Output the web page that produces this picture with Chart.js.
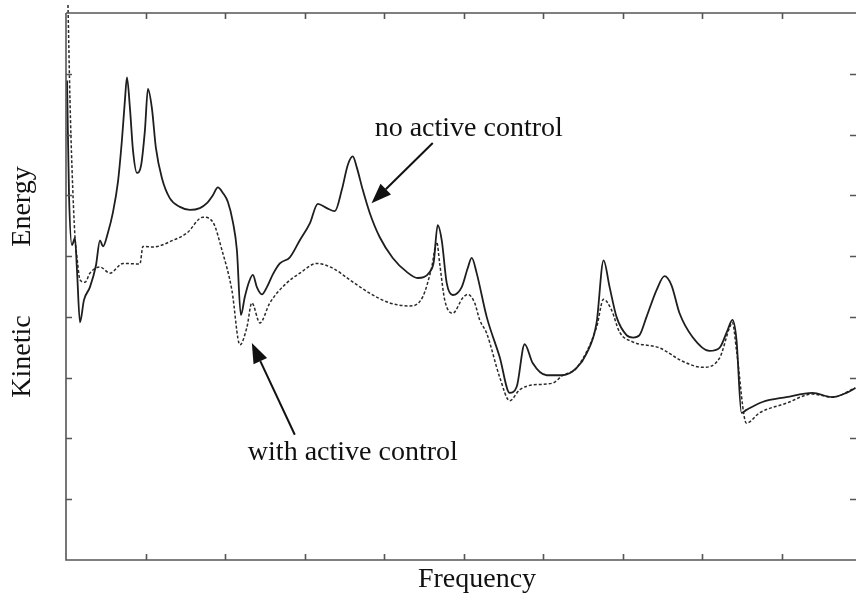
<!DOCTYPE html>
<html>
<head>
<meta charset="utf-8">
<script src="https://cdn.jsdelivr.net/npm/chart.js@4.4.1/dist/chart.umd.min.js"></script>
<style>
  body { margin: 0; background: #fff; }
  canvas { display: block; }
</style>
</head>
<body>
<canvas id="myChart" width="856" height="594"></canvas>
<script>
// frequency (arbitrary units) and kinetic energy readings, taken off the plot
const noControlX = [0.013, 0.038, 0.075, 0.113, 0.138, 0.176, 0.226, 0.301, 0.377, 0.427, 0.465, 0.528, 0.590, 0.653, 0.703, 0.741, 0.766, 0.804, 0.842, 0.892, 0.942, 0.992, 1.030, 1.080, 1.130, 1.206, 1.306, 1.432, 1.557, 1.683, 1.771, 1.846, 1.909, 1.972, 2.035, 2.098, 2.148, 2.198, 2.248, 2.299, 2.349, 2.399, 2.462, 2.525, 2.600, 2.688, 2.814, 2.939, 3.065, 3.165, 3.278, 3.379, 3.467, 3.542, 3.605, 3.655, 3.730, 3.818, 3.944, 4.107, 4.283, 4.421, 4.572, 4.622, 4.672, 4.723, 4.785, 4.861, 4.974, 5.049, 5.100, 5.162, 5.288, 5.451, 5.577, 5.665, 5.765, 5.866, 6.042, 6.243, 6.418, 6.544, 6.669, 6.757, 6.833, 6.920, 7.046, 7.130, 7.209, 7.297, 7.423, 7.523, 7.611, 7.712, 7.875, 8.089, 8.214, 8.315, 8.377, 8.428, 8.490, 8.553, 8.754, 9.056, 9.382, 9.634, 9.810, 9.922];
const noControlY = [7.89, 6.00, 5.18, 5.30, 4.77, 3.91, 4.28, 4.49, 4.85, 5.26, 5.16, 5.39, 5.72, 6.22, 6.91, 7.57, 7.94, 7.43, 6.74, 6.37, 6.48, 7.07, 7.75, 7.43, 6.78, 6.28, 5.95, 5.81, 5.76, 5.79, 5.87, 6.00, 6.13, 6.04, 5.89, 5.56, 5.10, 4.03, 4.33, 4.57, 4.69, 4.49, 4.37, 4.49, 4.70, 4.88, 4.98, 5.26, 5.54, 5.86, 5.79, 5.74, 6.09, 6.50, 6.64, 6.46, 6.09, 5.71, 5.31, 4.97, 4.74, 4.64, 4.74, 4.90, 5.51, 5.26, 4.56, 4.36, 4.49, 4.80, 4.97, 4.72, 4.00, 3.34, 2.75, 2.85, 3.55, 3.24, 3.04, 3.04, 3.16, 3.40, 3.90, 4.93, 4.49, 4.00, 3.70, 3.66, 3.70, 4.00, 4.44, 4.67, 4.52, 4.06, 3.67, 3.44, 3.49, 3.78, 3.95, 3.62, 2.42, 2.47, 2.60, 2.68, 2.75, 2.68, 2.75, 2.83];

const withControlX = [0.025, 0.050, 0.075, 0.113, 0.138, 0.176, 0.239, 0.301, 0.427, 0.553, 0.716, 0.929, 0.967, 1.093, 1.344, 1.520, 1.721, 1.846, 1.960, 2.085, 2.186, 2.274, 2.336, 2.437, 2.562, 2.776, 2.939, 3.153, 3.354, 3.567, 3.818, 4.069, 4.321, 4.484, 4.597, 4.660, 4.697, 4.760, 4.861, 4.986, 5.049, 5.137, 5.200, 5.288, 5.451, 5.577, 5.702, 5.866, 6.117, 6.243, 6.418, 6.669, 6.757, 6.858, 6.958, 7.121, 7.461, 7.750, 8.001, 8.214, 8.340, 8.377, 8.428, 8.553, 8.716, 9.056, 9.382, 9.634, 9.922];
const withControlY = [9.13, 7.57, 6.46, 5.31, 4.98, 4.61, 4.57, 4.72, 4.82, 4.72, 4.88, 4.87, 5.16, 5.15, 5.26, 5.38, 5.64, 5.56, 5.10, 4.44, 3.54, 3.83, 4.23, 3.90, 4.23, 4.56, 4.72, 4.88, 4.80, 4.61, 4.39, 4.23, 4.18, 4.33, 4.82, 5.23, 4.88, 4.28, 4.06, 4.31, 4.37, 4.23, 3.95, 3.73, 3.01, 2.62, 2.80, 2.88, 2.91, 3.04, 3.16, 3.83, 4.29, 4.11, 3.75, 3.59, 3.49, 3.27, 3.17, 3.32, 3.82, 3.91, 3.45, 2.25, 2.42, 2.58, 2.73, 2.68, 2.83];

const xTicks = [1, 2, 3, 4, 5, 6, 7, 8, 9];
const yTicks = [1, 2, 3, 4, 5, 6, 7, 8];

const serif = '"Liberation Serif", "DejaVu Serif", serif';

function toPoints(xs, ys) {
  return xs.map((x, i) => ({ x: x, y: ys[i] }));
}

// frame with inward ticks, axis titles and the two arrows
const framePlugin = {
  id: "frame",
  afterDraw(chart) {
    const ctx = chart.ctx;
    const a = chart.chartArea;
    const sx = chart.scales.x;
    const sy = chart.scales.y;
    const tick = 6;

    ctx.save();
    ctx.strokeStyle = "#555";
    ctx.lineWidth = 1.6;
    ctx.beginPath();
    ctx.moveTo(a.left, a.top);
    ctx.lineTo(a.right + 2, a.top);
    ctx.moveTo(a.left, a.top);
    ctx.lineTo(a.left, a.bottom);
    ctx.lineTo(a.right + 2, a.bottom);
    xTicks.forEach((v) => {
      const px = Math.round(sx.getPixelForValue(v)) + 0.5;
      ctx.moveTo(px, a.bottom);
      ctx.lineTo(px, a.bottom - tick);
      ctx.moveTo(px, a.top);
      ctx.lineTo(px, a.top + tick);
    });
    yTicks.forEach((v) => {
      const py = Math.round(sy.getPixelForValue(v)) + 0.5;
      ctx.moveTo(a.left, py);
      ctx.lineTo(a.left + tick, py);
      ctx.moveTo(a.right, py);
      ctx.lineTo(a.right - tick, py);
    });
    ctx.stroke();

    // axis titles
    ctx.fillStyle = "#111";
    ctx.font = "28px " + serif;
    ctx.textAlign = "center";
    ctx.textBaseline = "alphabetic";
    ctx.fillText("Frequency", a.left + 411, a.bottom + 27);

    ctx.save();
    ctx.translate(30, a.top + a.height / 2);
    ctx.rotate(-Math.PI / 2);
    ctx.fillText("Kinetic", -70, 0);
    ctx.fillText("Energy", 80, 0);
    ctx.restore();

    // annotations
    ctx.textAlign = "left";
    ctx.fillText("no active control", sx.getPixelForValue(3.88), sy.getPixelForValue(6.97));
    ctx.fillText("with active control", sx.getPixelForValue(2.286), sy.getPixelForValue(1.64));

    drawArrow(ctx, sx.getPixelForValue(4.61), sy.getPixelForValue(6.86),
      sx.getPixelForValue(3.84), sy.getPixelForValue(5.87));
    drawArrow(ctx, sx.getPixelForValue(2.876), sy.getPixelForValue(2.06),
      sx.getPixelForValue(2.336), sy.getPixelForValue(3.57));
    ctx.restore();
  },
};

function drawArrow(ctx, x0, y0, x1, y1) {
  const ang = Math.atan2(y1 - y0, x1 - x0);
  const len = 20;
  const half = 7.5;
  const bx = x1 - len * Math.cos(ang);
  const by = y1 - len * Math.sin(ang);
  ctx.strokeStyle = "#111";
  ctx.fillStyle = "#111";
  ctx.lineWidth = 2;
  ctx.beginPath();
  ctx.moveTo(x0, y0);
  ctx.lineTo(bx, by);
  ctx.stroke();
  ctx.beginPath();
  ctx.moveTo(x1, y1);
  ctx.lineTo(bx + half * Math.sin(ang), by - half * Math.cos(ang));
  ctx.lineTo(bx - half * Math.sin(ang), by + half * Math.cos(ang));
  ctx.closePath();
  ctx.fill();
}

new Chart(document.getElementById("myChart"), {
  type: "line",
  data: {
    datasets: [
      {
        label: "no active control",
        data: toPoints(noControlX, noControlY),
        borderColor: "#1e1e1e",
        borderWidth: 1.8,
        pointRadius: 0,
        cubicInterpolationMode: "monotone",
        clip: false,
      },
      {
        label: "with active control",
        data: toPoints(withControlX, withControlY),
        borderColor: "#2a2a2a",
        borderWidth: 1.5,
        borderDash: [3, 2],
        pointRadius: 0,
        cubicInterpolationMode: "monotone",
        clip: false,
      },
    ],
  },
  options: {
    responsive: false,
    animation: false,
    layout: { padding: { left: 66, right: 0, top: 13, bottom: 34 } },
    plugins: {
      legend: { display: false },
      tooltip: { enabled: false },
    },
    scales: {
      x: { type: "linear", min: 0, max: 9.93, display: false },
      y: { type: "linear", min: 0, max: 9, display: false },
    },
  },
  plugins: [framePlugin],
});
</script>
</body>
</html>
